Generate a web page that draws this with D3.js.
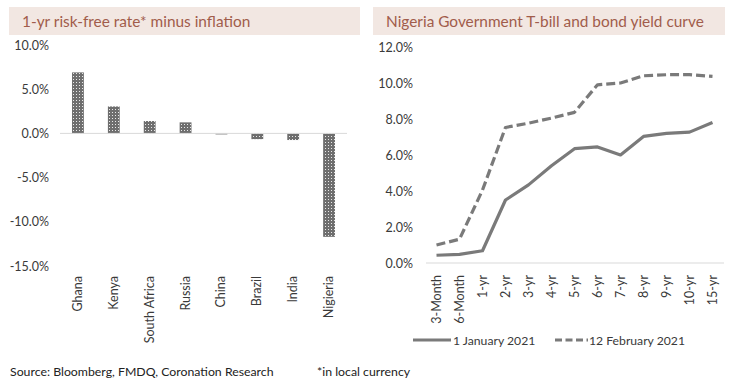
<!DOCTYPE html>
<html>
<head>
<meta charset="utf-8">
<script src="https://cdn.jsdelivr.net/npm/d3@7"></script>
<style>
	body { margin: 0; background: #fff; }
	svg text { font-family: Lato, "Open Sans", sans-serif; }
</style>
</head>
<body>
<svg id="chart" width="732" height="384"></svg>
<script>
// left panel data
var countries = ["Ghana", "Kenya", "South Africa", "Russia", "China", "Brazil", "India", "Nigieria"];
var realRate = [6.9, 3.05, 1.4, 1.25, -0.1, -0.65, -0.75, -11.7];
var leftTicks = [10, 5, 0, -5, -10, -15];

// right panel data
var tenors = ["3-Month", "6-Month", "1-yr", "2-yr", "3-yr", "4-yr", "5-yr", "6-yr", "7-yr", "8-yr", "9-yr", "10-yr", "15-yr"];
var jan1 = [0.43, 0.48, 0.68, 3.5, 4.34, 5.4, 6.35, 6.45, 6.0, 7.03, 7.2, 7.27, 7.8];
var feb12 = [1.0, 1.32, 4.05, 7.53, 7.77, 8.05, 8.37, 9.9, 10.0, 10.4, 10.46, 10.46, 10.37];
var rightTicks = [0, 2, 4, 6, 8, 10, 12];
var seriesNames = ["1 January 2021", "12 February 2021"];

var svg = d3.select("#chart");
var titleColor = "#a15c4b";
var bandColor = "#f2e7e2";
var textColor = "#3a3a3a";
var lineColor = "#7a7a7a";

// dotted fill like the Excel pattern
var defs = svg.append("defs");
var pat = defs.append("pattern")
	.attr("id", "dots")
	.attr("width", 3).attr("height", 3)
	.attr("patternUnits", "userSpaceOnUse");
pat.append("rect").attr("width", 3).attr("height", 3).attr("fill", "#6e6e6e");
pat.append("rect").attr("x", 1).attr("y", 1).attr("width", 1).attr("height", 1).attr("fill", "#e8e8e8");

// title bands
function titleBand(x, w, label) {
	svg.append("rect")
		.attr("x", x).attr("y", 7).attr("width", w).attr("height", 28)
		.attr("fill", bandColor);
	svg.append("text")
		.attr("x", x + 13).attr("y", 27)
		.attr("fill", titleColor)
		.style("font-size", "15.4px")
		.text(label);
}
titleBand(9, 351, "1-yr risk-free rate* minus inflation");
titleBand(373, 352, "Nigeria Government T-bill and bond yield curve");

// ---- left bar chart ----
var x1 = d3.scaleBand().domain(countries).range([60, 347]).paddingInner(0.67).paddingOuter(0.335);
var y1 = d3.scaleLinear().domain([-15, 10]).range([266, 45]);

var left = svg.append("g");

left.append("g")
	.attr("transform", "translate(49,0)")
	.call(d3.axisLeft(y1).tickValues(leftTicks).tickSize(0).tickPadding(0)
		.tickFormat(function(d) { return d.toFixed(1) + "%"; }))
	.call(function(g) { g.select(".domain").remove(); })
	.selectAll("text")
	.attr("fill", textColor)
	.style("font-size", "12.5px")
	.style("font-family", "Lato, sans-serif");

left.selectAll(".bar").data(realRate).enter().append("rect")
	.attr("class", "bar")
	.attr("x", function(d, i) { return x1(countries[i]); })
	.attr("width", x1.bandwidth())
	.attr("y", function(d) { return y1(Math.max(0, d)); })
	.attr("height", function(d) { return Math.max(1, Math.abs(y1(d) - y1(0))); })
	.attr("fill", function(d) { return Math.abs(d) < 0.2 ? "#6e6e6e" : "url(#dots)"; });

left.append("line")
	.attr("x1", 60).attr("x2", 347)
	.attr("y1", y1(0)).attr("y2", y1(0))
	.attr("stroke", "#d9d9d9").attr("stroke-width", 1);

left.selectAll(".clab").data(countries).enter().append("text")
	.attr("class", "clab")
	.attr("transform", function(d) {
		return "translate(" + (x1(d) + x1.bandwidth() / 2 + 4) + ",276) rotate(-90)";
	})
	.attr("text-anchor", "end")
	.attr("fill", textColor)
	.style("font-size", "12.5px")
	.text(function(d) { return d; });

// ---- right line chart ----
var x2 = d3.scalePoint().domain(tenors).range([436.5, 712.5]);
var y2 = d3.scaleLinear().domain([0, 12]).range([263, 47]);

var right = svg.append("g");

right.append("g")
	.attr("transform", "translate(413,0)")
	.call(d3.axisLeft(y2).tickValues(rightTicks).tickSize(0).tickPadding(0)
		.tickFormat(function(d) { return d.toFixed(1) + "%"; }))
	.call(function(g) { g.select(".domain").remove(); })
	.selectAll("text")
	.attr("fill", textColor)
	.style("font-size", "12.5px")
	.style("font-family", "Lato, sans-serif");

right.append("line")
	.attr("x1", 426).attr("x2", 724)
	.attr("y1", y2(0)).attr("y2", y2(0))
	.attr("stroke", "#d9d9d9").attr("stroke-width", 1);

var line = d3.line()
	.x(function(d, i) { return x2(tenors[i]); })
	.y(function(d) { return y2(d); });

right.append("path").datum(jan1)
	.attr("d", line)
	.attr("fill", "none")
	.attr("stroke", lineColor)
	.attr("stroke-width", 3.2)
	.attr("stroke-linejoin", "round");

right.append("path").datum(feb12)
	.attr("d", line)
	.attr("fill", "none")
	.attr("stroke", lineColor)
	.attr("stroke-width", 3.2)
	.attr("stroke-dasharray", "9,4")
	.attr("stroke-linejoin", "round");

right.selectAll(".tlab").data(tenors).enter().append("text")
	.attr("class", "tlab")
	.attr("transform", function(d) {
		return "translate(" + (x2(d) + 4) + ",275) rotate(-90)";
	})
	.attr("text-anchor", "end")
	.attr("fill", textColor)
	.style("font-size", "12.5px")
	.text(function(d) { return d; });

// legend
var legend = svg.append("g");
legend.append("line")
	.attr("x1", 413).attr("x2", 451).attr("y1", 340).attr("y2", 340)
	.attr("stroke", lineColor).attr("stroke-width", 3.2);
legend.append("text")
	.attr("x", 453).attr("y", 344.5)
	.attr("fill", textColor).style("font-size", "12.2px")
	.text(seriesNames[0]);
legend.append("line")
	.attr("x1", 555).attr("x2", 588).attr("y1", 340).attr("y2", 340)
	.attr("stroke", lineColor).attr("stroke-width", 3.2)
	.attr("stroke-dasharray", "7,3.5");
legend.append("text")
	.attr("x", 589).attr("y", 344.5)
	.attr("fill", textColor).style("font-size", "12.2px")
	.text(seriesNames[1]);

// footnotes
svg.append("text")
	.attr("x", 10).attr("y", 376)
	.attr("fill", "#222").style("font-size", "12.3px")
	.text("Source: Bloomberg, FMDQ, Coronation Research");
svg.append("text")
	.attr("x", 317).attr("y", 376)
	.attr("fill", "#222").style("font-size", "12.3px")
	.text("*in local currency");
</script>
</body>
</html>
